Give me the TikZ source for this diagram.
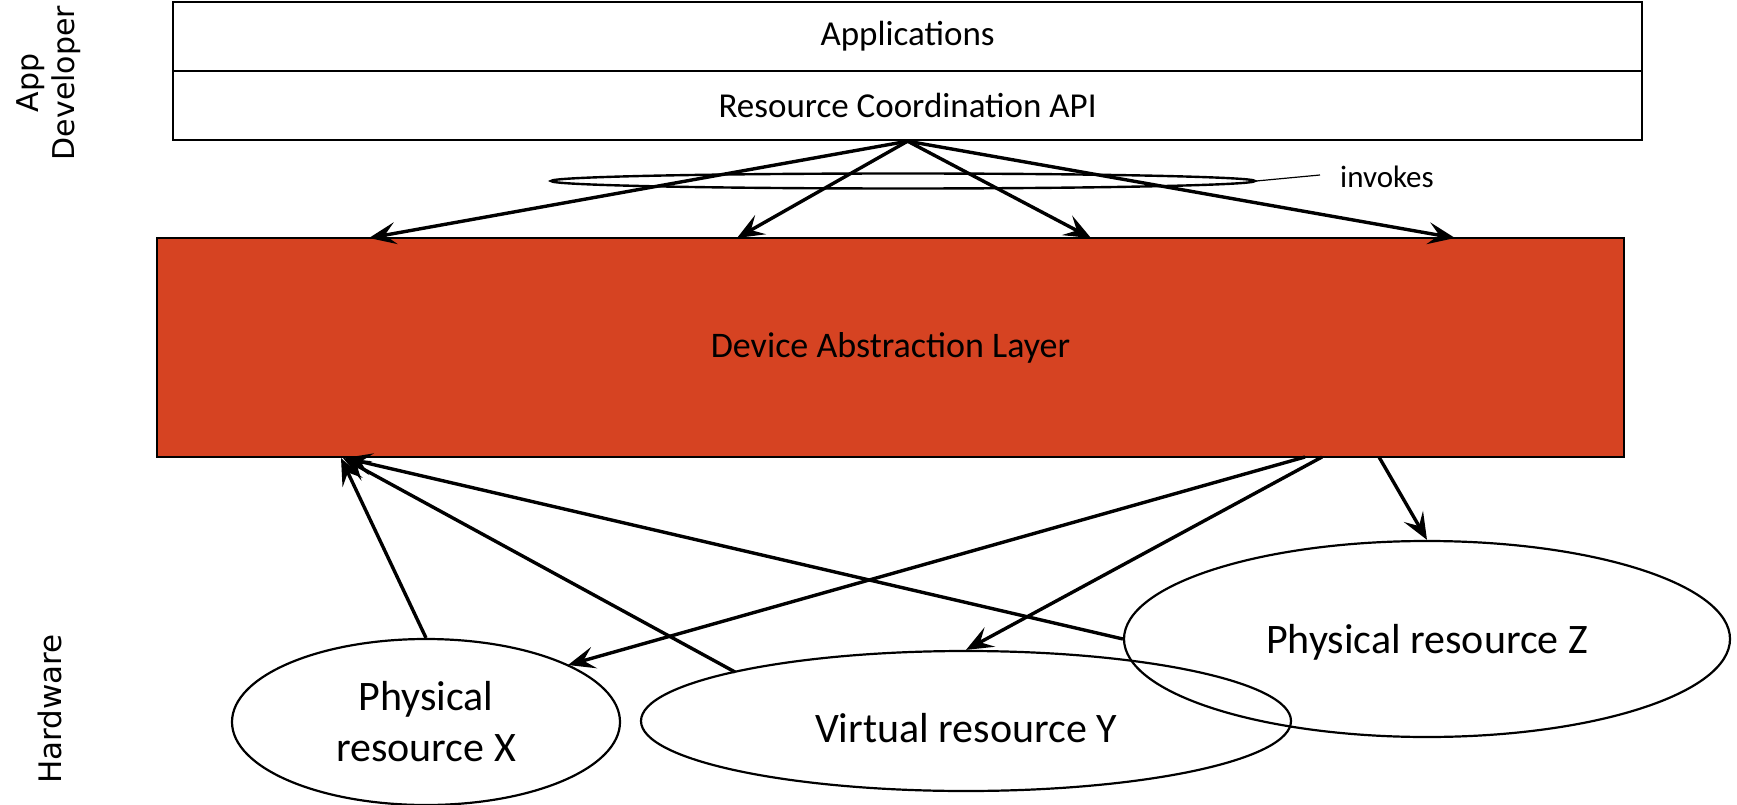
\documentclass[tikz,border=0pt]{standalone}
\usepackage{fontspec}
\setmainfont{Carlito}
\newfontfamily\dvs{DejaVu Sans}
\usetikzlibrary{shapes.geometric,arrows.meta}
\definecolor{dalred}{RGB}{214,67,34}
\tikzset{
  layerbox/.style={draw, line width=2.2pt, minimum width=1469pt, minimum height=69pt, inner sep=0pt, font=\fontsize{35}{42}\selectfont},
  res/.style={ellipse, draw, line width=2.2pt, inner sep=0pt, align=center, font=\fontsize{42}{51}\selectfont},
  arr/.style={line width=3.4pt, -{Stealth[length=27pt, width=22pt, inset=11pt]}},
  side/.style={rotate=90, align=center, font=\dvs\fontsize{30}{36}\selectfont}
}
\begin{document}
\begin{tikzpicture}[x=1pt,y=-1pt]
\useasboundingbox (0,0) rectangle (1737,805);
% top boxes
\node[layerbox, anchor=north west] (app) at (172,1) {Applications};
\node[layerbox, anchor=north west] (rca) at (172,70) {Resource Coordination API};
% device abstraction layer
\node[draw, fill=dalred, line width=2pt, minimum width=1467pt, minimum height=219pt, inner sep=0pt, font=\fontsize{36}{43}\selectfont] (dal) at (890.5,347.5) {Device Abstraction Layer};
% side labels
\node[side] (dev) at (49,83) {App\\Developer};
\node[side, font=\dvs\fontsize{31}{37}\selectfont] (hw) at (50,709) {Hardware};
% resource ellipses
\node[res, minimum width=388pt, minimum height=166pt] (X) at (426,722) {Physical\\resource X};
\node[res, minimum width=650pt, minimum height=140pt, text height=43pt, text depth=0pt] (Y) at (966,721) {Virtual resource Y};
\node[res, minimum width=606pt, minimum height=196pt, text height=35pt, text depth=6pt] (Z) at (1427,639) {Physical resource Z};
% invoke targets
\coordinate (t1) at (369,238);
\coordinate (t2) at (737,238);
\coordinate (t3) at (1091,238);
\coordinate (t4) at (1455,238);
\foreach \t in {t1,t2,t3,t4} \draw[arr] (rca.south) -- (\t);
% invokes ellipse and label
\node[ellipse, draw, line width=2.4pt, minimum width=704pt, minimum height=15pt, inner sep=0pt] (inv) at (903,181) {};
\node[font=\fontsize{31}{37}\selectfont, anchor=west, inner sep=0pt] (invl) at (1340,177) {invokes};
\coordinate (invend) at (1320,175);
\draw[line width=1.2pt] (inv.east) -- (invend);
% upward arrows to the layer
\coordinate (b1) at (341,458);
\coordinate (b2) at (343,458);
\coordinate (b3) at (345,458);
\coordinate (ys) at (735,672);
\draw[arr] (X.north) -- (b1);
\draw[arr] (ys) -- (b2);
\draw[arr] (Z.west) -- (b3);
% downward arrows from the layer
\coordinate (s1) at (1305,457);
\coordinate (s2) at (1322,457);
\coordinate (s3) at (1379,457);
\coordinate (xe) at (568,665);
\draw[arr] (s1) -- (xe);
\draw[arr] (s2) -- (Y.north);
\draw[arr] (s3) -- (Z.north);
\end{tikzpicture}
\end{document}
